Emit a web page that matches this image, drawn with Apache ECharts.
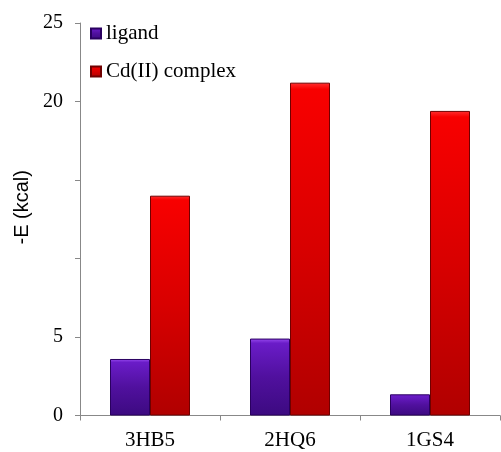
<!DOCTYPE html>
<html><head><meta charset="utf-8">
<script src="https://cdn.jsdelivr.net/npm/echarts@6/dist/echarts.min.js"></script>
<style>html,body{margin:0;padding:0;background:#fff}#c{width:501px;height:452px}</style>
</head><body><div id="c"></div>
<script>
const categories = ['3HB5', '2HQ6', '1GS4'];
const ligand = [3.6, 4.9, 1.35];
const complex = [14.0, 21.2, 19.4];
const yTickLabels = {0: '0', 5: '5', 20: '20', 25: '25'};

const purple = new echarts.graphic.LinearGradient(0, 0, 0, 1, [
  {offset: 0, color: '#9a4cf0'}, {offset: 0.06, color: '#6a1cc8'}, {offset: 0.5, color: '#50109e'}, {offset: 1, color: '#3c0a80'}]);
const red = new echarts.graphic.LinearGradient(0, 0, 0, 1, [
  {offset: 0, color: '#ff3030'}, {offset: 0.02, color: '#f80000'}, {offset: 0.5, color: '#d80000'}, {offset: 1, color: '#b00000'}]);

const chart = echarts.init(document.getElementById('c'), null, {renderer: 'canvas'});
chart.setOption({
  animation: false,
  grid: {left: 80, right: 1, top: 23, bottom: 36.5},
  legend: {
    left: 85, top: 18, orient: 'vertical', itemGap: 17, itemWidth: 10, itemHeight: 10,
    textStyle: {fontFamily: 'Liberation Serif', fontSize: 21, color: '#000'},
    data: [{name: 'ligand', icon: 'rect'}, {name: 'Cd(II) complex', icon: 'rect'}]
  },
  xAxis: {
    type: 'category', data: categories,
    axisLine: {lineStyle: {color: '#888'}},
    axisTick: {show: true, length: 5, lineStyle: {color: '#888'}},
    axisLabel: {fontFamily: 'Liberation Serif', fontSize: 21, color: '#000', margin: 14}
  },
  yAxis: {
    type: 'value', min: 0, max: 25, interval: 5,
    name: '-E (kcal)', nameLocation: 'middle', nameGap: 45, nameRotate: 90,
    nameTextStyle: {fontFamily: 'Liberation Sans', fontSize: 20, color: '#000', padding: [0, 0, 0, 24]},
    axisLine: {show: true, lineStyle: {color: '#888'}},
    axisTick: {show: true, length: 5, lineStyle: {color: '#888'}},
    splitLine: {show: false},
    axisLabel: {fontFamily: 'Liberation Serif', fontSize: 20, color: '#000', margin: 17,
      formatter: v => (yTickLabels[v] !== undefined ? yTickLabels[v] : '')}
  },
  series: [
    {name: 'ligand', type: 'bar', data: ligand, barWidth: 40, barGap: '0%',
     itemStyle: {color: purple, borderColor: '#2a0060', borderWidth: 1}},
    {name: 'Cd(II) complex', type: 'bar', data: complex, barWidth: 40, barGap: '0%',
     itemStyle: {color: red, borderColor: '#700000', borderWidth: 1}}
  ]
});
</script></body></html>
